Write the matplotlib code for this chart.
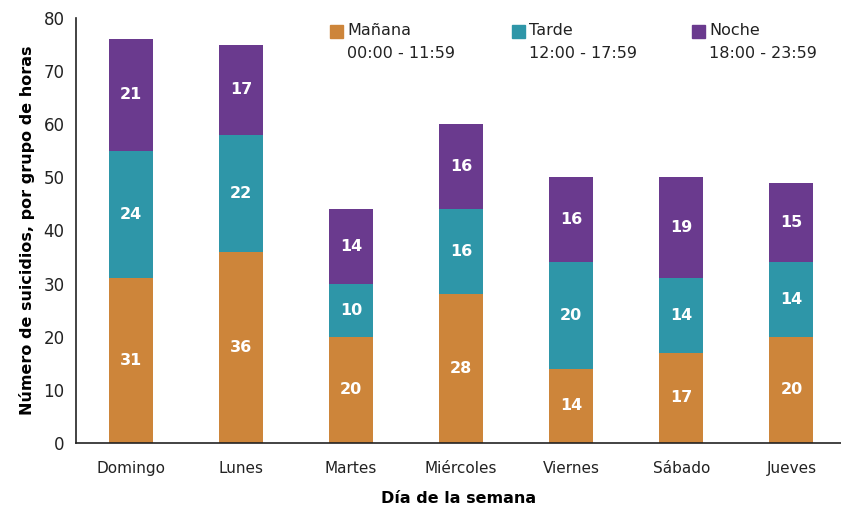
import matplotlib.pyplot as plt
from matplotlib.patches import Rectangle

# Datos
dias = ["Domingo", "Lunes", "Martes", "Miércoles", "Viernes", "Sábado", "Jueves"]
manana = [31, 36, 20, 28, 14, 17, 20]
tarde = [24, 22, 10, 16, 20, 14, 14]
noche = [21, 17, 14, 16, 16, 19, 15]

series = [("Mañana", "00:00 - 11:59", manana, "#CD853A"),
          ("Tarde", "12:00 - 17:59", tarde, "#2E96A8"),
          ("Noche", "18:00 - 23:59", noche, "#6A3A8E")]

plt.rcParams['font.family'] = ['DejaVu Sans']

fig = plt.figure(figsize=(8.41, 5.13), dpi=100)
ax = fig.add_axes([0.09, 0.1365, 0.91, 0.8285])

x = range(len(dias))
bottom = [0] * len(dias)
for nombre, horas, vals, color in series:
    bars = ax.bar(x, vals, width=0.4, bottom=bottom, color=color)
    for i, b in enumerate(bars):
        ax.text(b.get_x() + b.get_width() / 2, bottom[i] + vals[i] / 2, str(vals[i]),
                ha='center', va='center', color='white', fontweight='bold', fontsize=11.5)
    bottom = [a + b for a, b in zip(bottom, vals)]

ax.set_ylim(0, 80)
ax.set_xlim(-0.5, 6.45)
ax.set_xticks(list(x))
ax.set_xticklabels(dias, fontsize=11, color='#222222')
ax.set_yticks(range(0, 81, 10))
ax.tick_params(axis='y', labelsize=12, length=0, pad=8, colors='#222222')
ax.tick_params(axis='x', length=0, pad=13)
for s in ['top', 'right']:
    ax.spines[s].set_visible(False)
ax.spines['left'].set_color('#222222')
ax.spines['bottom'].set_color('#222222')
ax.spines['left'].set_linewidth(1.2)
ax.spines['bottom'].set_linewidth(1.2)

ax.set_ylabel("Número de suicidios, por grupo de horas", fontweight='bold', fontsize=11.5, labelpad=6)
ax.set_xlabel("Día de la semana", fontweight='bold', fontsize=11.5, labelpad=11)

# Leyenda manual
W, H = 841, 513
leg_x = [330, 512, 692]
for (nombre, horas, vals, color), lx in zip(series, leg_x):
    fig.patches.append(Rectangle((lx / W, 1 - 38 / H), 13 / W, 13 / H,
                                 transform=fig.transFigure, color=color))
    fig.text((lx + 17) / W, 1 - 31 / H, nombre, fontsize=11.5, va='center', color='#222222')
    fig.text((lx + 17) / W, 1 - 53 / H, horas, fontsize=11.5, va='center', color='#222222')

fig.savefig("out.png", dpi=100)
